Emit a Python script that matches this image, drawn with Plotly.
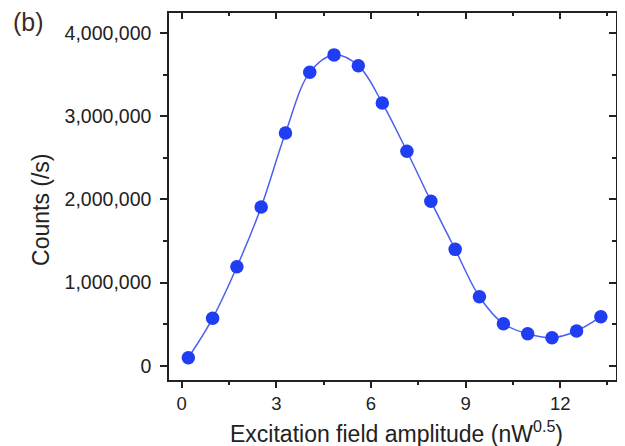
import plotly.graph_objects as go

amplitude = [0.21, 0.98, 1.75, 2.52, 3.29, 4.06, 4.83, 5.60, 6.36, 7.14,
             7.90, 8.67, 9.44, 10.20, 10.97, 11.74, 12.52, 13.29]
counts = [96000, 570000, 1190000, 1910000, 2800000, 3530000, 3740000, 3610000,
          3160000, 2580000, 1980000, 1400000, 830000, 505000, 385000, 337000,
          418000, 590000]

x_ticks = [0, 3, 6, 9, 12]
y_ticks = [0, 1000000, 2000000, 3000000, 4000000]

FONT = "Liberation Sans, Arial, sans-serif"
AX = "#222222"
x_range = [-0.403, 13.77]
y_range = [-172000, 4244000]

fig = go.Figure()
fig.add_trace(go.Scatter(
    x=amplitude, y=counts, mode="lines",
    line=dict(color="#4d5ff0", width=1.5, shape="spline", smoothing=1.0),
    hoverinfo="skip", showlegend=False))
fig.add_trace(go.Scatter(
    x=amplitude, y=counts, mode="markers",
    marker=dict(color="#1f3df2", size=13.5, line=dict(width=0)),
    showlegend=False))
# dummy trace to activate the mirrored top/right axes
fig.add_trace(go.Scatter(x=[None], y=[None], xaxis="x2", yaxis="y2",
                         showlegend=False, hoverinfo="skip"))

common = dict(showline=True, linecolor=AX, linewidth=1.5, showgrid=False,
              zeroline=False, tickcolor=AX, tickwidth=1.5)

# page body adds an 8px margin, so the figure is 8px smaller and shifted
fig.update_layout(
    width=617, height=438,
    margin=dict(l=161, r=9, t=5, b=66),
    paper_bgcolor="white", plot_bgcolor="white",
    font=dict(family=FONT, color=AX, size=19),
    xaxis=dict(range=x_range, tickvals=x_ticks, ticks="outside", ticklen=6,
               ticklabelstandoff=0,
               minor=dict(ticks="outside", ticklen=3, dtick=1.5, tick0=0,
                          tickcolor=AX, tickwidth=1.5),
               tickfont=dict(size=18.5), **common),
    yaxis=dict(range=y_range, tickvals=y_ticks, tickformat=",d", ticks="outside",
               ticklen=7, ticklabelstandoff=5,
               minor=dict(ticks="outside", ticklen=4, dtick=500000, tick0=0,
                          tickcolor=AX, tickwidth=1.5),
               tickfont=dict(size=19.5), **common),
    xaxis2=dict(range=x_range, overlaying="x", side="top", tickvals=x_ticks,
                ticks="inside", ticklen=6, showticklabels=False,
                minor=dict(ticks="inside", ticklen=3, dtick=1.5, tick0=0,
                           tickcolor=AX, tickwidth=1.5),
                anchor="y", **common),
    yaxis2=dict(range=y_range, overlaying="y", side="right", tickvals=y_ticks,
                ticks="inside", ticklen=7, showticklabels=False,
                minor=dict(ticks="inside", ticklen=4, dtick=500000, tick0=0,
                           tickcolor=AX, tickwidth=1.5),
                anchor="x", **common),
    annotations=[
        dict(text="Counts (/s)", textangle=-90, xref="paper", yref="paper",
             x=-0.2864, y=0.4632, showarrow=False, xanchor="center",
             yanchor="middle", font=dict(size=23, family=FONT, color=AX)),
        dict(text="Excitation field amplitude (nW<sup>0.5</sup>)", xref="paper",
             yref="paper", x=0.51, y=-0.1417, showarrow=False, xanchor="center",
             yanchor="middle", font=dict(size=23, family=FONT, color=AX)),
        dict(text="(b)", xref="paper", yref="paper", x=-0.3154, y=0.9755,
             showarrow=False, xanchor="center", yanchor="middle",
             font=dict(size=25, family=FONT, color="#3a2c1e")),
    ],
)

fig.write_html("out.html")
